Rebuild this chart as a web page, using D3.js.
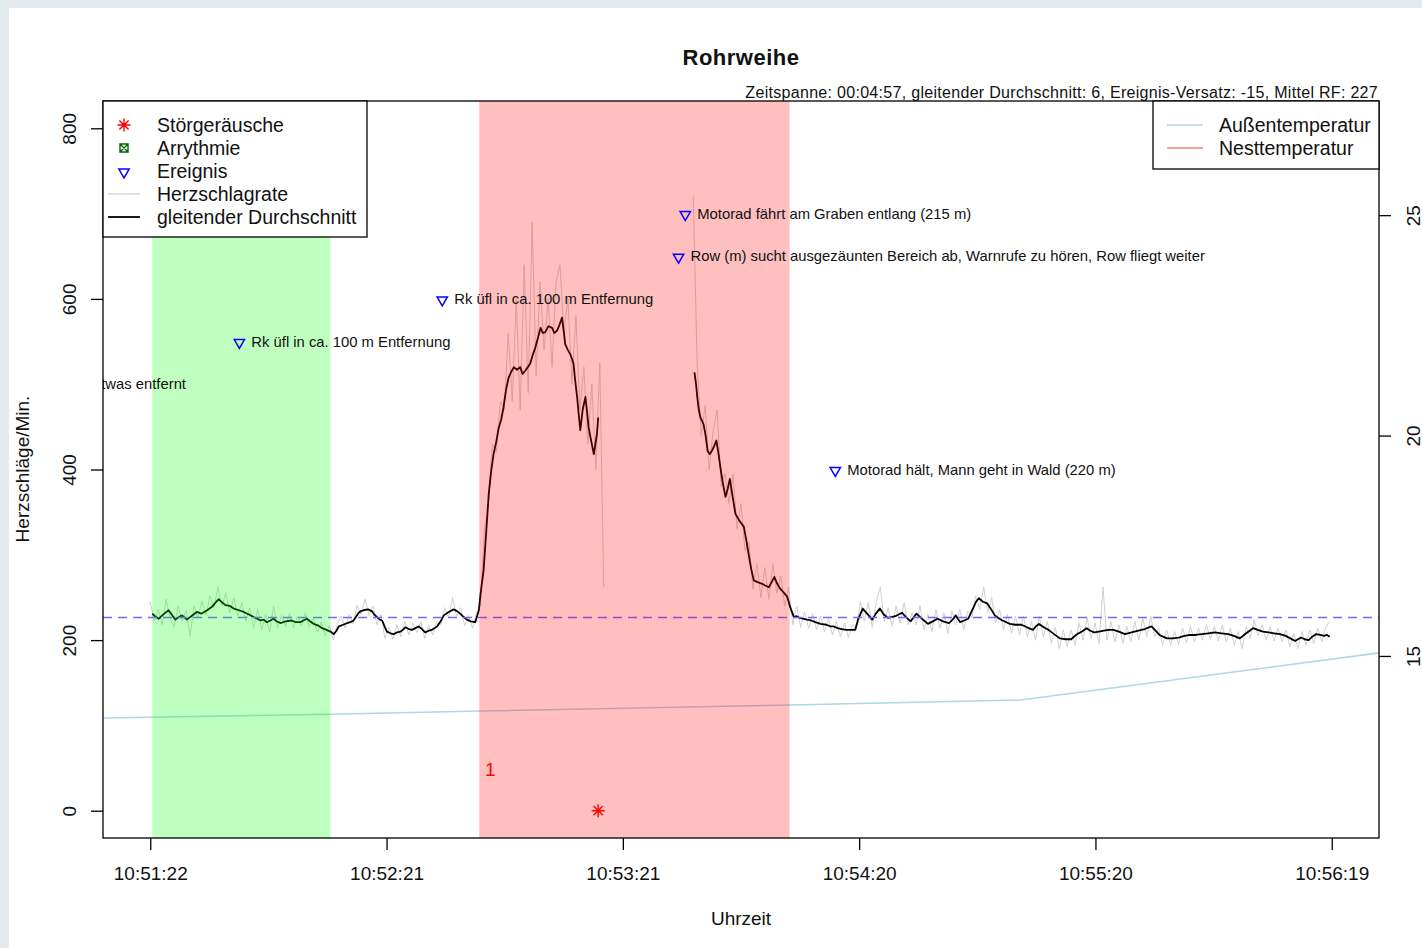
<!DOCTYPE html>
<html>
<head>
<meta charset="utf-8">
<title>Rohrweihe</title>
<script src="https://cdn.jsdelivr.net/npm/d3@7"></script>
<style>
  html, body { margin: 0; padding: 0; background: #e3eaee; }
  svg { display: block; font-family: "Liberation Sans", Arial, sans-serif; }
</style>
</head>
<body>
<svg id="chart" width="1422" height="948"></svg>
<script>
// ---- data -----------------------------------------------------------------
// time is given in seconds after the start of the recording (10:51:22)
const timeTicks = [0, 59.4, 118.8, 178.2, 237.6, 297];
const timeTickLabels = ["10:51:22", "10:52:21", "10:53:21", "10:54:20", "10:55:20", "10:56:19"];
const rateTicks = [0, 200, 400, 600, 800];
const tempTicks = [15, 20, 25];

const meanRate = 227;

// calm phase and disturbance phase (start, end in seconds)
const calmPhase = [0.5, 45.3];
const alarmPhase = [82.7, 160.7];

// raw heart rate, one value per second; two recorded stretches
const rawStart1 = 0;
const rawRates1 = [
  245, 222, 236, 218, 248, 226, 215, 240, 222, 235,
  205, 240, 226, 246, 229, 252, 238, 262, 240, 255,
  232, 249, 228, 244, 222, 238, 214, 236, 212, 230,
  209, 240, 214, 229, 216, 231, 214, 228, 217, 232,
  215, 226, 209, 221, 205, 217, 200, 219, 228, 214,
  230, 219, 241, 230, 248, 229, 240, 218, 230, 202,
  215, 201, 218, 204, 222, 206, 220, 209, 222, 202,
  217, 206, 221, 218, 238, 226, 250, 228, 238, 217,
  229, 214, 232, 240, 330, 360, 430, 420, 480, 470,
  560, 480, 600, 470, 640, 490, 690, 510, 620, 540,
  600, 520, 620, 640, 560, 600, 500, 580, 470, 520,
  430, 500, 400, 525, 262
];
const rawStart2 = 136.5;
const rawRates2 = [
  720, 520, 440, 475, 400, 445, 470, 380, 395, 360,
  395, 330, 360, 305, 315, 260, 290, 250, 285, 248,
  290, 255, 275, 240, 262, 218, 240, 215, 233, 214,
  231, 212, 228, 210, 225, 206, 222, 204, 220, 203,
  218, 212, 245, 222, 244, 215, 245, 262, 222, 238,
  216, 240, 220, 244, 218, 232, 218, 240, 212, 230,
  210, 236, 214, 232, 208, 234, 218, 236, 212, 234,
  226, 252, 236, 262, 232, 250, 220, 236, 212, 230,
  208, 228, 206, 228, 204, 222, 200, 228, 204, 222,
  196, 215, 190, 212, 192, 212, 194, 220, 200, 226,
  202, 220, 196, 262, 200, 222, 198, 218, 196, 216,
  198, 222, 200, 226, 204, 228, 204, 214, 194, 212,
  194, 210, 195, 214, 197, 216, 198, 214, 200, 218,
  201, 216, 199, 218, 198, 214, 194, 210, 190, 216,
  202, 224, 205, 218, 200, 216, 199, 214, 198, 212,
  192, 208, 190, 210, 194, 212, 196, 214, 198, 215,
  222
];

// moving average (window 6) as [seconds, beats per minute]
const smoothed1 = [
  [0.5,231],[1.2,228],[2.1,225],[3.0,229],[4.6,235],[5.4,230],[6.3,224],[7.2,227],[8.0,229],[9.2,224],
  [10.3,228],[11.7,233],[12.8,231],[14.3,235],[15.5,239],[16.4,244],[17.2,248],[18.1,244],[18.9,241],[20.0,240],
  [21.0,237],[22.3,235],[23.5,233],[24.8,230],[26.0,227],[26.9,225],[27.7,223],[28.5,224],[29.3,221],[30.2,223],
  [31.0,225],[31.8,222],[32.7,220],[34.0,222],[35.6,223],[36.5,221],[37.7,221],[38.5,223],[39.4,225],[40.2,222],
  [41.1,219],[42.2,217],[43.2,214],[44.3,212],[45.3,210],[46.1,207],[46.8,211],[47.4,216],[48.5,218],[49.5,220],
  [50.3,221],[51.1,223],[51.8,228],[52.4,232],[53.0,234],[53.6,235],[54.7,236],[55.7,234],[56.3,230],[57.0,227],
  [57.7,224],[58.3,223],[59.0,215],[59.5,210],[60.4,208],[61.2,207],[62.0,209],[62.9,210],[63.5,212],[64.1,215],
  [65.0,213],[65.8,212],[66.6,214],[67.5,216],[68.3,213],[69.1,209],[70.0,211],[70.8,212],[71.4,214],[72.1,216],
  [73.0,222],[73.8,229],[75.0,233],[76.3,236],[77.1,234],[77.9,231],[78.8,227],[79.6,224],[80.6,222],[81.7,221],
  [82.1,227],[82.6,235],[83.0,253],[83.8,282],[84.5,330],[85.1,372],[85.7,398],[86.3,418],[87.0,433],[87.6,449],
  [88.2,458],[88.8,473],[89.5,495],[90.1,508],[90.8,515],[91.4,520],[92.2,517],[93.0,520],[93.6,512],[94.3,516],
  [94.9,520],[95.5,524],[96.2,535],[96.8,543],[97.5,555],[98.1,566],[98.7,560],[99.3,561],[100.1,568],[101.0,566],
  [101.6,560],[102.3,563],[102.9,570],[103.5,578],[104.0,560],[104.3,547],[105.0,540],[105.6,535],[106.0,530],[106.4,524],
  [106.8,505],[107.3,485],[107.7,465],[108.1,446],[108.7,470],[109.4,485],[109.8,468],[110.2,449],[110.9,432],[111.5,418],
  [111.9,430],[112.3,442],[112.6,461]
];
const smoothed2 = [
  [136.8,514],[137.2,500],[137.5,485],[137.9,470],[138.3,461],[139.1,453],[139.6,440],[140.1,422],[140.6,418],[141.2,422],
  [141.8,428],[142.3,434],[142.8,420],[143.3,403],[143.9,385],[144.6,368],[145.2,378],[145.7,389],[146.4,368],[147.1,348],
  [148.1,340],[149.2,333],[149.8,318],[150.4,301],[151.0,285],[151.7,270],[152.7,268],[153.8,266],[154.6,264],[155.5,262],
  [156.2,268],[156.9,274],[157.6,266],[158.4,260],[159.2,256],[160.1,251],[160.9,238],[161.8,227],[162.5,228],[163.3,226],
  [164.3,225],[165.1,224],[166.1,223],[167.2,221],[168.5,219],[170.0,218],[171.0,216],[171.8,216],[172.8,214],[173.8,213],
  [175.0,212],[176.3,212],[177.2,212],[178.0,225],[179.1,237],[180.2,231],[181.5,224],[182.4,231],[183.4,237],[184.4,230],
  [185.4,226],[186.3,227],[187.3,228],[188.1,230],[189.0,232],[190.0,227],[191.1,222],[191.8,226],[192.6,231],[194.0,225],
  [195.5,219],[196.7,222],[197.9,225],[199.3,222],[200.8,220],[201.7,224],[202.5,229],[203.0,225],[203.6,221],[204.6,223],
  [205.6,225],[206.3,232],[207.0,239],[207.6,245],[208.3,249],[209.3,245],[210.4,243],[211.4,236],[212.3,229],[213.2,226],
  [214.2,223],[215.2,221],[216.1,219],[217.5,218],[219.0,218],[220.4,215],[221.9,212],[222.6,216],[223.4,219],[224.6,215],
  [225.8,212],[227.2,207],[228.7,202],[230.1,201],[231.5,201],[232.2,204],[233.0,207],[234.2,210],[235.4,214],[236.3,211],
  [237.3,209],[238.5,210],[239.7,211],[240.9,212],[242.1,212],[243.5,210],[245.0,207],[246.7,209],[248.4,211],[250.0,213],
  [251.7,216],[252.7,211],[253.7,206],[254.6,204],[255.6,202],[257.0,202],[258.5,203],[260.0,205],[261.4,206],[262.8,206],
  [264.3,207],[266.0,208],[267.6,209],[269.3,208],[271.0,207],[272.4,205],[273.9,202],[275.5,208],[277.2,214],[278.4,212],
  [279.7,210],[281.1,209],[282.5,208],[284.0,207],[285.4,205],[286.6,202],[287.8,199],[288.5,201],[289.3,203],[290.2,201],
  [291.2,200],[292.1,204],[293.1,207],[294.1,206],[295.1,205],[295.8,206],[296.5,204]
];

// outside temperature (degrees C)
const tempTimes = [-11.9, 45.3, 83.0, 161.0, 218.8, 308.9];
const tempValues = [13.59, 13.68, 13.75, 13.89, 14.0, 15.07];

// logged events
const eventTimes = [-17.4, 22.4, 73.4, 132.8, 134.5, 172.2];
const eventRates = [500, 550, 600, 650, 700, 400];
const eventLabels = [
  "etwas entfernt",
  "Rk üfl in ca. 100 m Entfernung",
  "Rk üfl in ca. 100 m Entfernung",
  "Row (m) sucht ausgezäunten Bereich ab, Warnrufe zu hören, Row fliegt weiter",
  "Motorad fährt am Graben entlang (215 m)",
  "Motorad hält, Mann geht in Wald (220 m)"
];

// noise marks and counter note
const noiseTimes = [112.6];
const noiseRates = [0];
const noteTimes = [85.5];
const noteRates = [48];
const noteTexts = ["1"];

const rateLegend = ["Störgeräusche", "Arrythmie", "Ereignis", "Herzschlagrate", "gleitender Durchschnitt"];
const tempLegend = ["Außentemperatur", "Nesttemperatur"];

// ---- drawing --------------------------------------------------------------
const W = 1422, H = 948;
const box = { left: 103, top: 101, right: 1379, bottom: 838 };
const svg = d3.select("#chart");

// white sheet
svg.append("rect").attr("x", 9).attr("y", 8).attr("width", W - 9).attr("height", H - 8).attr("fill", "#ffffff");

const pad = 297 * 0.04;
const x = d3.scaleLinear().domain([-pad, 297 + pad]).range([box.left, box.right]);
const y = d3.scaleLinear().domain([-32, 832]).range([box.bottom, box.top]);
const yT = d3.scaleLinear().domain([10.87, 27.59]).range([box.bottom, box.top]);

svg.append("defs").append("clipPath").attr("id", "plotClip")
  .append("rect").attr("x", box.left).attr("y", box.top)
  .attr("width", box.right - box.left).attr("height", box.bottom - box.top);

const plot = svg.append("g").attr("clip-path", "url(#plotClip)");

// outside temperature
plot.append("path")
  .datum(d3.zip(tempTimes, tempValues))
  .attr("d", d3.line().x(d => x(d[0])).y(d => yT(d[1])))
  .attr("fill", "none").attr("stroke", "#add8e6").attr("stroke-width", 1.5);

// raw heart rate
const rateLine = d3.line().x(d => x(d[0])).y(d => y(d[1]));
[[rawStart1, rawRates1], [rawStart2, rawRates2]].forEach(([t0, vals]) => {
  plot.append("path")
    .datum(vals.map((v, i) => [t0 + i, v]))
    .attr("d", rateLine)
    .attr("fill", "none").attr("stroke", "#d0d0d0").attr("stroke-width", 1);
});

// moving average
[smoothed1, smoothed2].forEach(seg => {
  plot.append("path")
    .datum(seg)
    .attr("d", rateLine)
    .attr("fill", "none").attr("stroke", "#000").attr("stroke-width", 1.8)
    .attr("stroke-linejoin", "round");
});

// mean heart rate
const meanY = Math.round(y(meanRate)) + 0.5;
plot.append("line")
  .attr("x1", box.left).attr("x2", box.right)
  .attr("y1", meanY).attr("y2", meanY)
  .attr("stroke", "#7a66ff").attr("stroke-width", 1.4).attr("stroke-dasharray", "9,6");

// translucent phase bands over the curves
[[calmPhase, "rgba(0,255,0,0.25)"], [alarmPhase, "rgba(255,0,0,0.25)"]].forEach(([p, c]) => {
  plot.append("rect")
    .attr("x", x(p[0])).attr("width", x(p[1]) - x(p[0]))
    .attr("y", box.top).attr("height", box.bottom - box.top)
    .attr("fill", c);
});

// events
const tri = d3.symbol().type(d3.symbolTriangle).size(46);
eventTimes.forEach((t, i) => {
  const cx = x(t), cy = y(eventRates[i]);
  plot.append("path").attr("d", tri())
    .attr("transform", `translate(${cx},${cy + 1}) rotate(180)`)
    .attr("fill", "none").attr("stroke", "#0000ff").attr("stroke-width", 1.5);
  plot.append("text")
    .attr("x", cx + 12).attr("y", cy).attr("dominant-baseline", "central")
    .attr("font-size", 14.8).attr("fill", "#111")
    .text(eventLabels[i]);
});

// asterisk marker
function asterisk(g, cx, cy, r, color) {
  const d = r * Math.SQRT1_2;
  g.append("path")
    .attr("d", `M${cx - r},${cy}H${cx + r}M${cx},${cy - r}V${cy + r}` +
      `M${cx - d},${cy - d}L${cx + d},${cy + d}M${cx - d},${cy + d}L${cx + d},${cy - d}`)
    .attr("stroke", color).attr("stroke-width", 1.4).attr("fill", "none");
}
noiseTimes.forEach((t, i) => asterisk(plot, x(t), y(noiseRates[i]), 6.5, "#ff0000"));

noteTimes.forEach((t, i) => {
  plot.append("text").attr("x", x(t)).attr("y", y(noteRates[i]))
    .attr("text-anchor", "middle").attr("dominant-baseline", "central")
    .attr("font-size", 19).attr("fill", "#ff0000").text(noteTexts[i]);
});

// ---- axes -----------------------------------------------------------------
function styleAxis(g) {
  g.attr("font-size", 19).attr("font-family", "\"Liberation Sans\", Arial, sans-serif");
  g.select(".domain").remove();
  g.selectAll(".tick line").attr("stroke", "#000").attr("stroke-width", 1.3);
  g.selectAll(".tick text").attr("fill", "#111");
}

const axL = svg.append("g").attr("transform", `translate(${box.left},0)`)
  .call(d3.axisLeft(y).tickValues(rateTicks).tickSize(12).tickFormat(d3.format("d")));
styleAxis(axL);
axL.selectAll(".tick text").attr("x", null).attr("dy", null)
  .attr("transform", "translate(-34,0) rotate(-90)")
  .attr("text-anchor", "middle").attr("dominant-baseline", "central");

const axR = svg.append("g").attr("transform", `translate(${box.right},0)`)
  .call(d3.axisRight(yT).tickValues(tempTicks).tickSize(12).tickFormat(d3.format("d")));
styleAxis(axR);
axR.selectAll(".tick text").attr("x", null).attr("dy", null)
  .attr("transform", "translate(34,0) rotate(-90)")
  .attr("text-anchor", "middle").attr("dominant-baseline", "central");

const axB = svg.append("g").attr("transform", `translate(0,${box.bottom})`)
  .call(d3.axisBottom(x).tickValues(timeTicks).tickSize(12).tickFormat((d, i) => timeTickLabels[i]));
styleAxis(axB);
axB.selectAll(".tick text").attr("y", 35).attr("dy", null).attr("dominant-baseline", "central");

// plot frame
svg.append("rect")
  .attr("x", box.left).attr("y", box.top)
  .attr("width", box.right - box.left).attr("height", box.bottom - box.top)
  .attr("fill", "none").attr("stroke", "#000").attr("stroke-width", 1.3);

// ---- titles ---------------------------------------------------------------
svg.append("text").attr("x", (box.left + box.right) / 2).attr("y", 57)
  .attr("text-anchor", "middle").attr("dominant-baseline", "central")
  .attr("font-size", 22).attr("font-weight", "bold").attr("letter-spacing", 0.5).attr("fill", "#111")
  .text("Rohrweihe");

svg.append("text").attr("x", box.right - 1).attr("y", 92)
  .attr("text-anchor", "end").attr("dominant-baseline", "central")
  .attr("font-size", 16).attr("letter-spacing", 0.3).attr("fill", "#111")
  .text("Zeitspanne: 00:04:57, gleitender Durchschnitt: 6, Ereignis-Versatz: -15, Mittel RF: 227");

svg.append("text").attr("transform", "translate(22,469) rotate(-90)")
  .attr("text-anchor", "middle").attr("dominant-baseline", "central")
  .attr("font-size", 19).attr("fill", "#111").text("Herzschläge/Min.");

svg.append("text").attr("x", (box.left + box.right) / 2).attr("y", 918)
  .attr("text-anchor", "middle").attr("dominant-baseline", "central")
  .attr("font-size", 19).attr("fill", "#111").text("Uhrzeit");

// ---- legends --------------------------------------------------------------
const legL = svg.append("g");
legL.append("rect").attr("x", box.left).attr("y", box.top).attr("width", 264).attr("height", 136)
  .attr("fill", "#fff").attr("stroke", "#000").attr("stroke-width", 1.3);
const rowY = i => 125 + i * 23;
const symX = 124;
rateLegend.forEach((lab, i) => {
  legL.append("text").attr("x", 157).attr("y", rowY(i)).attr("dominant-baseline", "central")
    .attr("font-size", 19.5).attr("fill", "#111").text(lab);
});
asterisk(legL, symX, rowY(0), 6.5, "#ff0000");
// square with cross for arrhythmia
legL.append("path")
  .attr("d", `M${symX - 4},${rowY(1) - 4}h8v8h-8zM${symX - 4},${rowY(1) - 4}l8,8M${symX + 4},${rowY(1) - 4}l-8,8`)
  .attr("fill", "none").attr("stroke", "#006400").attr("stroke-width", 1.4);
legL.append("path").attr("d", tri())
  .attr("transform", `translate(${symX},${rowY(2) + 1}) rotate(180)`)
  .attr("fill", "none").attr("stroke", "#0000ff").attr("stroke-width", 1.5);
legL.append("line").attr("x1", 108).attr("x2", 140).attr("y1", rowY(3)).attr("y2", rowY(3))
  .attr("stroke", "#d3d3d3").attr("stroke-width", 1.3);
legL.append("line").attr("x1", 108).attr("x2", 140).attr("y1", rowY(4)).attr("y2", rowY(4))
  .attr("stroke", "#000").attr("stroke-width", 1.8);

const legR = svg.append("g");
legR.append("rect").attr("x", 1153).attr("y", box.top).attr("width", box.right - 1153).attr("height", 68)
  .attr("fill", "#fff").attr("stroke", "#000").attr("stroke-width", 1.3);
const tempColors = ["#add8e6", "#fa8072"];
tempLegend.forEach((lab, i) => {
  const yy = 125 + i * 23;
  legR.append("line").attr("x1", 1167).attr("x2", 1203).attr("y1", yy).attr("y2", yy)
    .attr("stroke", tempColors[i]).attr("stroke-width", 1.5);
  legR.append("text").attr("x", 1219).attr("y", yy).attr("dominant-baseline", "central")
    .attr("font-size", 19.5).attr("fill", "#111").text(lab);
});
</script>
</body>
</html>
